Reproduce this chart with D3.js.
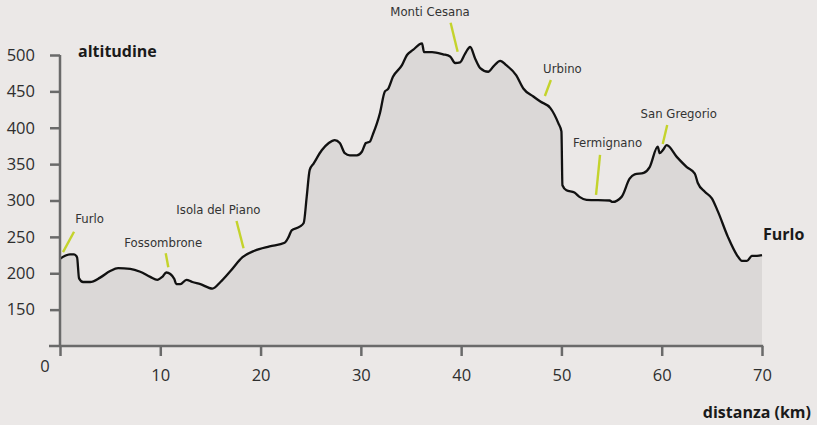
<!DOCTYPE html>
<html><head><meta charset="utf-8">
<script src="https://cdn.jsdelivr.net/npm/d3@7"></script>
<style>
html,body{margin:0;padding:0;background:#ebe8e7;}
svg{display:block;}
</style></head>
<body>
<svg id="chart" width="817" height="425"></svg>
<script>
// distance (km) and altitude (m) of the route profile
const km = [0,1.0,1.4,1.7,1.9,2.3,3.0,4.0,5.0,5.8,7.0,8.0,9.0,9.7,10.2,10.6,11.0,11.4,11.6,12.0,12.6,13.2,14.0,15.2,16.0,17.0,18.2,19.4,20.9,22.4,22.8,23.1,23.9,24.3,24.6,24.9,25.3,26.1,26.8,27.4,27.9,28.4,28.9,29.6,30.1,30.5,30.9,31.2,31.6,31.9,32.4,32.7,33.2,34.1,34.6,35.2,36.1,36.3,37.1,38.2,38.9,39.4,39.9,40.4,40.9,41.4,41.9,42.7,43.2,43.9,44.5,45.5,46.2,47.2,47.9,48.9,49.7,50.0,50.1,50.5,51.3,51.8,52.5,54.8,55.1,56.0,56.8,57.3,58.2,58.8,59.6,59.8,60.1,60.5,61.5,62.5,63.3,63.6,64.3,65.0,65.6,66.6,67.5,68.0,68.5,69.0,69.5,70.0];
const alt = [220,226,226,222,193,188,188,194,203,207,206,202,195,191,195,201,199,192,185,185,191,188,185,179,188,203,222,231,237,242,250,259,264,269,305,342,351,369,379,383,379,365,362,362,367,379,381,391,406,420,450,453,470,486,500,507,516,504,504,501,498,489,490,502,511,495,482,477,484,492,486,472,454,443,436,427,406,395,321,314,311,305,301,300,298,305,330,336,338,346,374,365,369,376,360,346,337,324,312,303,285,250,225,217,217,224,224,225];

const yTicks = [150,200,250,300,350,400,450,500];
const xTicks = [0,10,20,30,40,50,60,70];

// place names along the route: label anchor and leader line (km, m)
const placeNames = ["Furlo","Fossombrone","Isola del Piano","Monti Cesana","Urbino","Fermignano","San Gregorio"];
const labelKm  = [2.95,10.3,15.8,36.9,50.1,54.6,61.7];
const labelAlt = [276,242,288,559.5,482,379.5,420];
const leadKm1  = [1.4,10.54,17.6,38.95,48.95,53.85,60.55];
const leadAlt1 = [257,227.4,271.8,544.4,465.6,362.6,403.8];
const leadKm2  = [0.3,10.8,18.3,39.65,48.35,53.45,60.1];
const leadAlt2 = [229,208.2,234.3,504.5,443.7,307.6,377.7];
const endName = "Furlo";
const endKm = 70.1, endAlt = 254;

const yTitle = "altitudine";
const xTitle = "distanza (km)";

const svg = d3.select("#chart");
const x = d3.scaleLinear().domain([0,70]).range([60,762]);
const y = d3.scaleLinear().domain([100,500]).range([346,55]);

const data = km.map((k,i)=>({k, a: alt[i]}));

// area
svg.append("path")
  .datum(data)
  .attr("d", d3.area().x(d=>x(d.k)).y0(y(100)).y1(d=>y(d.a)).curve(d3.curveMonotoneX))
  .attr("fill", "#dbd8d7");

// profile line
svg.append("path")
  .datum(data)
  .attr("d", d3.line().x(d=>x(d.k)).y(d=>y(d.a)).curve(d3.curveMonotoneX))
  .attr("fill", "none")
  .attr("stroke", "#111")
  .attr("stroke-width", 2.3)
  .attr("stroke-linejoin", "round");

const axisColor = "#6a6a6a";
const tickFont = "'Open Sans', sans-serif";

// y axis
const gy = svg.append("g").attr("transform", `translate(${x(0)},0)`)
  .call(d3.axisLeft(y).tickValues(yTicks).tickSize(10).tickPadding(15).tickSizeOuter(0));
gy.select(".domain").remove();
gy.selectAll(".tick line").attr("stroke", axisColor).attr("stroke-width", 2.5);
gy.selectAll(".tick text").attr("fill", "#2e2e2e").style("font-family", tickFont).style("font-size", "16.5px");

// x axis
const gx = svg.append("g").attr("transform", `translate(0,${y(100)})`)
  .call(d3.axisBottom(x).tickValues(xTicks).tickSize(10).tickPadding(13).tickSizeOuter(0)
    .tickFormat(d => d === 0 ? "" : d));
gx.select(".domain").remove();
gx.selectAll(".tick line").attr("stroke", axisColor).attr("stroke-width", 2.5);
gx.selectAll(".tick text").attr("fill", "#2e2e2e").style("font-family", tickFont).style("font-size", "16.5px");

// axis lines
svg.append("line").attr("x1", x(0)).attr("x2", x(0)).attr("y1", y(500)).attr("y2", y(100))
  .attr("stroke", axisColor).attr("stroke-width", 2.5);
svg.append("line").attr("x1", x(0) - 11).attr("x2", x(70) + 1.2).attr("y1", y(100)).attr("y2", y(100))
  .attr("stroke", axisColor).attr("stroke-width", 2.5);

// origin label
svg.append("text").attr("x", x(0) - 15).attr("y", y(100) + 20)
  .attr("text-anchor", "middle").attr("dy", "0.35em")
  .attr("fill", "#2e2e2e").style("font-family", tickFont).style("font-size", "16.5px").text("0");

// axis titles
svg.append("text").attr("x", 78).attr("y", 57)
  .attr("fill", "#1a1a1a").style("font-family", tickFont).style("font-weight", "700").style("font-size", "16px")
  .text(yTitle);
svg.append("text").attr("x", 811).attr("y", 418).attr("text-anchor", "end")
  .attr("fill", "#1a1a1a").style("font-family", tickFont).style("font-weight", "700").style("font-size", "16px")
  .text(xTitle);

// place labels and leaders
const labelFont = "'Liberation Sans Narrow', 'DejaVu Sans Condensed', 'Roboto Condensed', sans-serif";
placeNames.forEach((name, i) => {
  svg.append("line")
    .attr("x1", x(leadKm1[i])).attr("y1", y(leadAlt1[i]))
    .attr("x2", x(leadKm2[i])).attr("y2", y(leadAlt2[i]))
    .attr("stroke", "#c4d32c").attr("stroke-width", 2.4);
  svg.append("text")
    .attr("x", x(labelKm[i])).attr("y", y(labelAlt[i]))
    .attr("text-anchor", "middle").attr("dy", "0.35em")
    .attr("fill", "#333").style("font-family", labelFont).style("font-size", "13px")
    .text(name);
});
svg.append("text").attr("x", x(endKm)).attr("y", y(endAlt)).attr("dy", "0.35em")
  .attr("fill", "#1a1a1a").style("font-family", tickFont).style("font-weight", "700").style("font-size", "16px")
  .text(endName);
</script>
</body></html>
